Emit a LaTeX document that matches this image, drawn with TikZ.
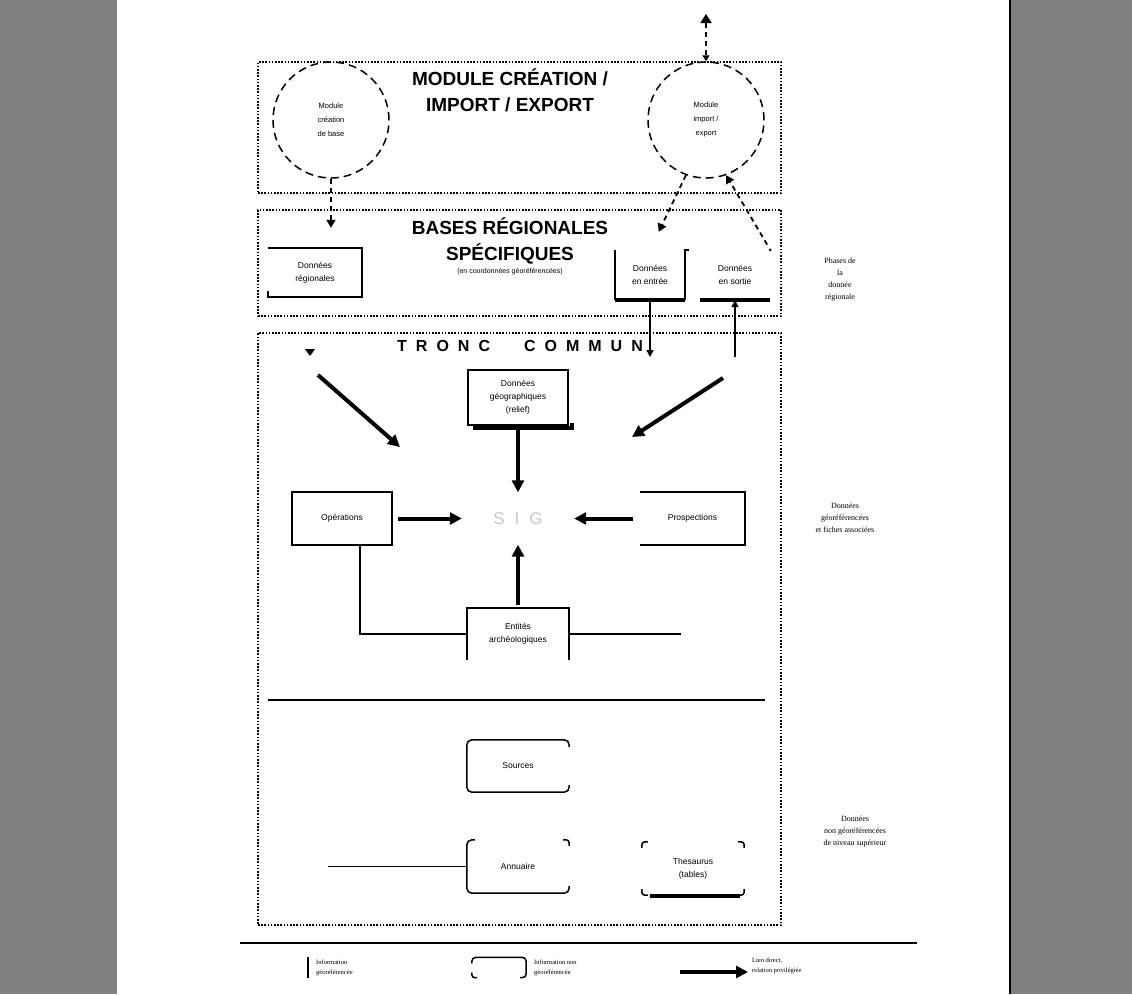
\documentclass[tikz,border=0pt]{standalone}
\usepackage{fontspec}
\setmainfont{Liberation Sans}
\newfontfamily\seriffont{Liberation Serif}
\usetikzlibrary{arrows.meta,calc}
\definecolor{pagegray}{RGB}{128,128,128}
\definecolor{siggray}{RGB}{200,200,200}

\tikzset{
  zone/.style={draw, line width=1.3pt, dash pattern=on 1.6pt off 1.6pt, inner sep=0pt},
  modcircle/.style={circle, draw, line width=1.5pt, dash pattern=on 8pt off 5pt,
    minimum size=116pt, inner sep=0pt, align=center,
    font=\fontsize{7.5}{14}\selectfont},
  lbl/.style={inner sep=0pt, align=center, font=\fontsize{8.5}{13}\selectfont},
  box/.style={lbl},
  edge/.style={line width=1.5pt},
  thickbar/.style={line width=4pt},
  flow/.style={line width=4pt, -{Triangle[length=12pt,width=12pt]}},
  thinflow/.style={line width=1.5pt, -{Triangle[length=7pt,width=7pt]}},
  link/.style={line width=1.8pt, dash pattern=on 5pt off 4pt},
  linkhead/.style={-{Triangle[length=8pt,width=9pt]}},
  title/.style={inner sep=0pt, align=center, font=\fontsize{19}{26}\selectfont\bfseries},
  side/.style={inner sep=0pt, align=center, font=\seriffont\fontsize{8}{12}\selectfont},
  legend/.style={inner sep=0pt, align=left, font=\seriffont\fontsize{6.5}{10}\selectfont},
}

\begin{document}
\begin{tikzpicture}[x=1pt,y=-1pt]
\useasboundingbox (0,0) rectangle (1132,994);

% page margins
\fill[pagegray] (0,0) rectangle (117,994);
\fill[pagegray] (1011,0) rectangle (1132,994);
\draw[line width=2.5pt] (1010,0) -- (1010,994);

% ---------- three dotted zones ----------
\node[zone, minimum width=523pt, minimum height=131pt] (zmod) at (519.5,127.5) {};
\node[zone, minimum width=523pt, minimum height=106pt] (zbase) at (519.5,263) {};
\node[zone, minimum width=523pt, minimum height=592pt] (ztronc) at (519.5,629) {};

% ---------- module creation / import / export ----------
\node[title] (tmod) at (510,90) {MODULE CRÉATION /\\IMPORT / EXPORT};
\node[modcircle] (mcre) at (331,120) {Module\\création\\de base};
\node[modcircle] (mimp) at (706,120) {Module\\import /\\export};
\coordinate (ext) at (706,14);
\draw[link, {Triangle[length=9pt,width=11pt]}-{Triangle[length=6pt,width=7pt]}] (ext) -- (mimp.north);

% ---------- regional bases ----------
\node[title] (tbase) at (510,240.5) {BASES RÉGIONALES\\SPÉCIFIQUES};
\node[inner sep=0pt, font=\fontsize{7}{8}\selectfont] (tbsub) at (510,272) {(en coordonnées géoréférencées)};

\node[box, minimum width=94pt, minimum height=49pt] (dreg) at (315,272.5) {Données\\régionales};
\draw[edge] (dreg.north west) -- (dreg.north east) -- (dreg.south east) -- (dreg.south west) -- ++(0,-6);

\node[box, minimum width=70pt, minimum height=50pt] (din) at (650,275) {Données\\en entrée};
\draw[edge] (din.north west) -- (din.south west);
\draw[line width=3.5pt] (din.south west) -- (din.south east);
\draw[edge] (din.south east) -- (din.north east) -- ++(4,0);

\node[box, minimum width=70pt, minimum height=50pt] (dout) at (735,275) {Données\\en sortie};
\draw[line width=3.5pt] (dout.south west) -- (dout.south east);
\fill (dout.north east) circle (1.5pt);

\draw[link, linkhead, shorten >=20pt] (mcre.south) -- (mcre.south |- dreg.north);
\draw[link, linkhead, shorten >=20pt] (mimp.250) -- (din.north);
\draw[link, linkhead, shorten <=6pt] (dout.north east) -- (mimp.290);

\node[side] (sbase) at (840,280) {Phases de\\la\\donnée\\régionale};

% ---------- common trunk ----------
\node[inner sep=0pt, font=\fontsize{16}{18}\selectfont\bfseries] (ttronc) at (520,346)
  {T\hspace{9pt}R\hspace{9pt}O\hspace{9pt}N\hspace{9pt}C\hspace{34pt}C\hspace{9pt}O\hspace{9pt}M\hspace{9pt}M\hspace{9pt}U\hspace{9pt}N};

\coordinate (inend) at (650,357);
\coordinate (outstart) at (735,357);
\draw[thinflow] (din.south) -- (inend);
\draw[thinflow] (outstart) -- (dout.south);

\fill (305,349) -- (315,349) -- (310,356) -- cycle;

\node[box, minimum width=100pt, minimum height=55pt] (dgeo) at (518,397.5) {Données\\géographiques\\(relief)};
\draw[edge] (dgeo.south west) rectangle (dgeo.north east);
\draw[thickbar] ($(dgeo.south west)+(5,2.5)$) -- ($(dgeo.south east)+(4,2.5)$) -- ++(0,-5);

\node[inner sep=0pt, minimum width=112pt, minimum height=52pt, text=siggray,
      font=\fontsize{17}{20}\selectfont] (sig) at (518,518.5) {S\hspace{10pt}I\hspace{10pt}G};

\node[box, minimum width=100pt, minimum height=53pt] (ops) at (342,518.5) {Opérations};
\draw[edge] (ops.south west) rectangle (ops.north east);

\node[box, minimum width=105pt, minimum height=53pt] (pros) at (692.5,518.5) {Prospections};
\draw[edge] (pros.north west) -- (pros.north east) -- (pros.south east) -- (pros.south west);

\node[box, minimum width=102pt, minimum height=52pt] (ent) at (518,634) {Entités\\archéologiques};
\draw[edge] (ent.south west) -- (ent.north west) -- (ent.north east) -- (ent.south east);

\coordinate (dA1) at (318,375);
\coordinate (dA2) at (400,447);
\coordinate (dB1) at (723,378);
\coordinate (dB2) at (632,437);
\draw[flow] (dA1) -- (dA2);
\draw[flow] (dB1) -- (dB2);

\draw[flow] (dgeo.south) -- (sig.north);
\draw[flow, shorten <=6pt] (ops.east) -- (sig.west);
\draw[flow, shorten <=7pt] (pros.west) -- (sig.east);
\draw[flow, shorten <=3pt] (ent.north) -- (sig.south);

\draw[edge] ($(ops.south)+(18,0)$) |- (ent.west);
\coordinate (entend) at (681,634);
\draw[edge] (ent.east) -- (entend);

\node[side] (stronc) at (845,518) {Données\\géoréférencées\\et fiches associées};

% separator inside the trunk
\coordinate (sepL) at (268,700);
\coordinate (sepR) at (765,700);
\draw[line width=1.6pt] (sepL) -- (sepR);

% ---------- non georeferenced data ----------
\node[box, minimum width=102pt, minimum height=52pt] (src) at (518,766) {Sources};
\draw[edge, rounded corners=5pt] ($(src.north east)+(0,7)$) -- (src.north east) -- (src.north west)
  -- (src.south west) -- (src.south east) -- ++(0,-7);

\node[box, minimum width=102pt, minimum height=53pt] (ann) at (518,866.5) {Annuaire};
\draw[edge, rounded corners=5pt] ($(ann.north west)+(8,0)$) -- (ann.north west) -- (ann.south west)
  -- (ann.south east) -- ++(0,-7);
\draw[edge, rounded corners=3pt] ($(ann.north east)+(-6,0)$) -- (ann.north east) -- ++(0,6);
\coordinate (annstart) at (328,866.5);
\draw[edge] (annstart) -- (ann.west);

\node[box, minimum width=102pt, minimum height=53pt] (the) at (693,868.5) {Thesaurus\\(tables)};
\draw[edge, rounded corners=3pt] ($(the.north west)+(0,6)$) -- (the.north west) -- ++(6,0);
\draw[edge, rounded corners=3pt] ($(the.north east)+(-6,0)$) -- (the.north east) -- ++(0,6);
\draw[edge, rounded corners=3pt] ($(the.south west)+(0,-6)$) -- (the.south west) -- ++(6,0);
\draw[edge, rounded corners=3pt] ($(the.south east)+(-6,0)$) -- (the.south east) -- ++(0,-6);
\draw[thickbar] ($(the.south west)+(8,1)$) -- ($(the.south east)+(-4,1)$);

\node[side] (snon) at (855,832) {Données\\non géoréférencées\\de niveau supérieur};

% ---------- legend ----------
\coordinate (rulel) at (240,943);
\coordinate (ruler) at (917,943);
\draw[line width=2.5pt] (rulel) -- (ruler);

\coordinate (lg1t) at (308,957);
\coordinate (lg1b) at (308,978);
\draw[edge] (lg1t) -- (lg1b);
\node[legend, anchor=west] (lgt1) at (316,967.5) {Information\\géoréférencée};

\node[inner sep=0pt, minimum width=54pt, minimum height=20pt] (lgsym) at (499,967.5) {};
\draw[edge, rounded corners=4pt] ($(lgsym.north west)+(0,6)$) -- (lgsym.north west) -- (lgsym.north east)
  -- (lgsym.south east) -- ++(-6,0);
\draw[edge, rounded corners=3pt] ($(lgsym.south west)+(0,-5)$) -- (lgsym.south west) -- ++(5,0);
\node[legend, anchor=west] (lgt2) at (534,967.5) {Information non\\géoréférencée};

\coordinate (lga1) at (680,972);
\coordinate (lga2) at (748,972);
\draw[flow] (lga1) -- (lga2);
\node[legend, anchor=west] (lgt3) at (752,966) {Lien direct,\\relation privilégiée};

\end{tikzpicture}
\end{document}
